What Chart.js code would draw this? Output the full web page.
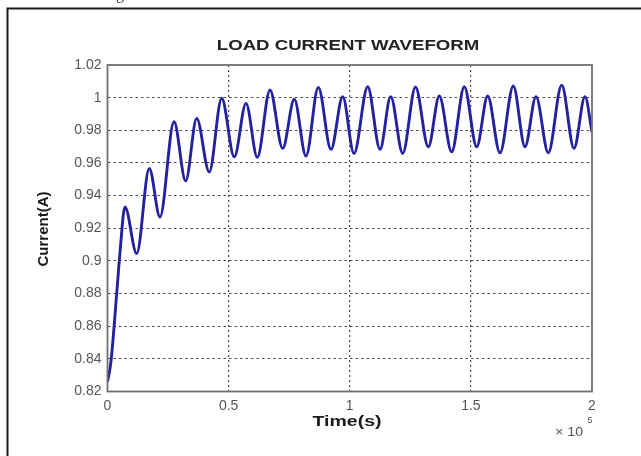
<!DOCTYPE html>
<html>
<head>
<meta charset="utf-8">
<script src="https://cdn.jsdelivr.net/npm/chart.js@4/dist/chart.umd.min.js"></script>
<style>
    html, body { margin: 0; padding: 0; background: #fff; }
    #wrap { width: 641px; height: 456px; position: relative; }
</style>
</head>
<body>
<div id="wrap"><canvas id="loadChart"></canvas></div>
<script>
// Time axis values (x 10^5 s) at the turning points of the waveform
const timeValues = [
    0, 0.014, 0.038, 0.052, 0.072, 0.1205, 0.1725, 0.2167, 0.2745, 0.3228,
    0.3682, 0.420, 0.4714, 0.5234, 0.5717, 0.6184, 0.6708, 0.7232, 0.7711, 0.8194,
    0.8702, 0.9226, 0.9709, 1.0175, 1.0741, 1.1249, 1.1691, 1.2186, 1.2714, 1.3243,
    1.3697, 1.4208, 1.4728, 1.5240, 1.5694, 1.6202, 1.6751, 1.7234, 1.7688, 1.8196,
    1.8749, 1.9257, 1.9711, 2.0
];

// Load current (A)
const currentValues = [
    0.826, 0.838, 0.880, 0.906, 0.9331, 0.9045, 0.9566, 0.9269, 0.9852, 0.949,
    0.9873, 0.9545, 0.9996, 0.9637, 0.9965, 0.9634, 1.0047, 0.9689, 0.9990, 0.9642,
    1.0063, 0.9683, 1.0006, 0.9658, 1.0067, 0.9683, 1.0006, 0.9658, 1.0065, 0.9699,
    1.001, 0.9668, 1.0067, 0.9699, 1.001, 0.9662, 1.0071, 0.9699, 1.0006, 0.9662,
    1.0077, 0.9689, 1.0006, 0.979
];

const xTicks = [0, 0.5, 1, 1.5, 2];
const xTickLabels = ['0', '0.5', '1', '1.5', '2'];
const yTicks = [0.82, 0.84, 0.86, 0.88, 0.9, 0.92, 0.94, 0.96, 0.98, 1, 1.02];
const yTickLabels = ['0.82', '0.84', '0.86', '0.88', '0.9', '0.92', '0.94', '0.96', '0.98', '1', '1.02'];

const chartTitle = 'LOAD CURRENT WAVEFORM';
const xTitle = 'Time(s)';
const yTitle = 'Current(A)';

document.addEventListener('DOMContentLoaded', () => {
    const canvas = document.getElementById('loadChart');

    // draw text stretched horizontally around its centre
    function drawText(ctx, text, cx, cy, font, color, sx) {
        ctx.save();
        ctx.translate(cx, cy);
        ctx.scale(sx, 1);
        ctx.font = font;
        ctx.fillStyle = color;
        ctx.textAlign = 'center';
        ctx.textBaseline = 'middle';
        ctx.fillText(text, 0, 0);
        ctx.restore();
    }

    const decorPlugin = {
        id: 'decor',
        beforeDraw(chart) {
            const ctx = chart.ctx;
            ctx.save();
            ctx.fillStyle = '#fff';
            ctx.fillRect(0, 0, chart.width, chart.height);
            ctx.restore();
        },
        afterDraw(chart) {
            const ctx = chart.ctx;
            const a = chart.chartArea;

            // axes box
            ctx.save();
            ctx.strokeStyle = '#6f6f6f';
            ctx.lineWidth = 1.8;
            ctx.strokeRect(a.left, a.top, a.right - a.left, a.bottom - a.top);
            ctx.restore();

            // page frame (top + left edge)
            ctx.save();
            ctx.strokeStyle = '#1a1a1a';
            ctx.lineWidth = 2;
            ctx.beginPath();
            ctx.moveTo(7.5, chart.height);
            ctx.lineTo(7.5, 8.5);
            ctx.lineTo(chart.width, 8.5);
            ctx.stroke();
            ctx.restore();

            // leftover descender from the text above the figure
            ctx.save();
            ctx.font = '16px "Liberation Serif"';
            ctx.fillStyle = '#333';
            ctx.textBaseline = 'alphabetic';
            ctx.fillText('g', 116, -1);
            ctx.restore();

            drawText(ctx, chartTitle, 348, 46, 'bold 14px "Liberation Sans"', '#222', 1.33);
            drawText(ctx, xTitle, 347, 422, 'bold 15px "Liberation Sans"', '#1a1a1a', 1.3);

            ctx.save();
            ctx.translate(44, 229);
            ctx.rotate(-Math.PI / 2);
            ctx.font = 'bold 15px "Liberation Sans"';
            ctx.fillStyle = '#1a1a1a';
            ctx.textAlign = 'center';
            ctx.textBaseline = 'middle';
            ctx.fillText(yTitle, 0, 0);
            ctx.restore();

            // exponent note under the x axis
            drawText(ctx, '\u00d7 10', 569, 432, '13px "Liberation Sans"', '#555', 1.1);
            drawText(ctx, '5', 590, 421, '9px "Liberation Sans"', '#555', 1);
        }
    };

    const gridColor = (c, edgeCount) => {
        const i = c.index;
        return (i === 0 || i === edgeCount - 1) ? 'rgba(0,0,0,0)' : '#4a4a4a';
    };

    new Chart(canvas, {
        type: 'line',
        data: {
            datasets: [{
                data: timeValues.map((t, i) => ({ x: t, y: currentValues[i] })),
                borderColor: '#22229e',
                borderWidth: 2.9,
                pointRadius: 0,
                cubicInterpolationMode: 'monotone',
                fill: false
            }]
        },
        options: {
            responsive: true,
            maintainAspectRatio: false,
            animation: false,
            layout: { padding: { left: 0, top: 65, right: 49, bottom: 0 } },
            scales: {
                x: {
                    type: 'linear',
                    min: 0,
                    max: 2,
                    afterBuildTicks: (scale) => { scale.ticks = xTicks.map(v => ({ value: v })); },
                    afterFit: (scale) => { scale.height = 64.5; },
                    grid: {
                        color: (c) => gridColor(c, xTicks.length),
                        lineWidth: 1.2,
                        drawTicks: false
                    },
                    border: { display: false, dash: [2, 3] },
                    ticks: {
                        autoSkip: false,
                        maxRotation: 0,
                        padding: 6,
                        color: '#555',
                        font: { family: 'Liberation Sans', size: 14 },
                        callback: (v, i) => xTickLabels[i]
                    }
                },
                y: {
                    type: 'linear',
                    min: 0.82,
                    max: 1.02,
                    afterBuildTicks: (scale) => { scale.ticks = yTicks.map(v => ({ value: v })); },
                    afterFit: (scale) => { scale.width = 107.5; },
                    grid: {
                        color: (c) => gridColor(c, yTicks.length),
                        lineWidth: 1,
                        drawTicks: false
                    },
                    border: { display: false, dash: [2.5, 3] },
                    ticks: {
                        padding: 6,
                        color: '#555',
                        font: { family: 'Liberation Sans', size: 14 },
                        callback: (v, i) => yTickLabels[i]
                    }
                }
            },
            plugins: {
                legend: { display: false },
                tooltip: { enabled: false },
                title: { display: false }
            }
        },
        plugins: [decorPlugin]
    });
});
</script>
</body>
</html>
